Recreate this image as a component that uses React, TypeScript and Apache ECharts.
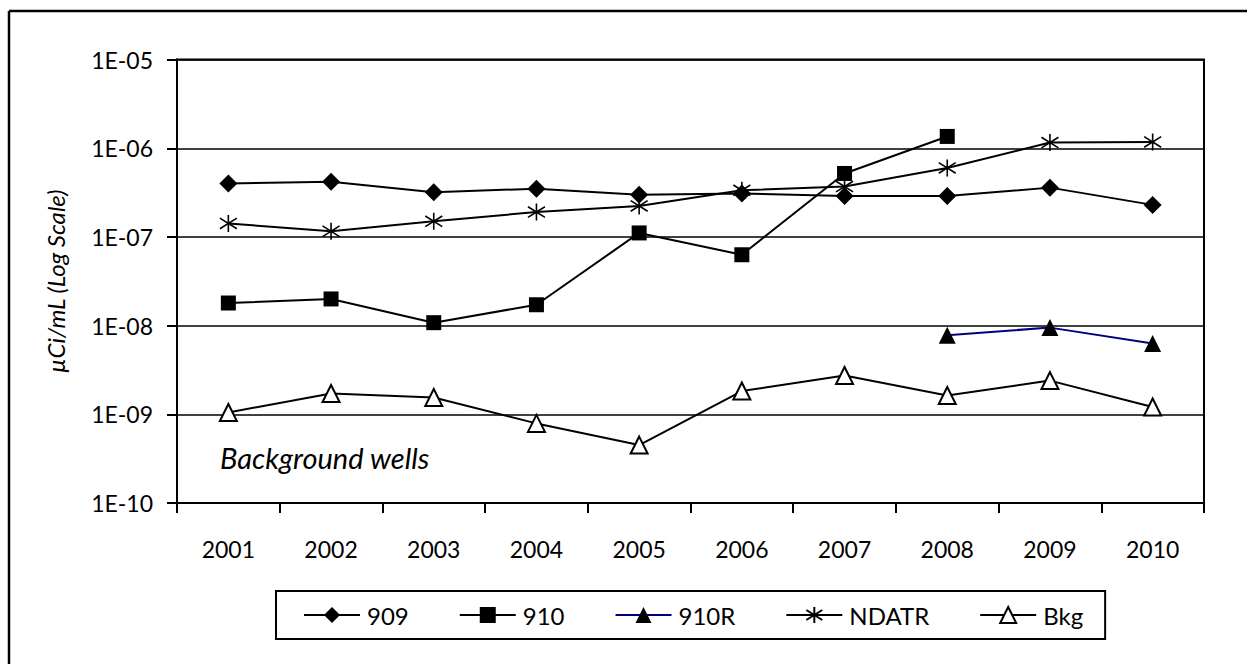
import React, { useEffect, useRef } from "react";
import * as echarts from "echarts";

const years = ["2001", "2002", "2003", "2004", "2005", "2006", "2007", "2008", "2009", "2010"];
const s909 = [4.0e-7, 4.2e-7, 3.2e-7, 3.5e-7, 3.0e-7, 3.1e-7, 2.9e-7, 2.9e-7, 3.6e-7, 2.3e-7];
const s910 = [1.8e-8, 2.0e-8, 1.08e-8, 1.72e-8, 1.11e-7, 6.3e-8, 5.2e-7, 1.36e-6, null, null];
const s910R = [null, null, null, null, null, null, null, 7.8e-9, 9.5e-9, 6.3e-9];
const sNDATR = [1.42e-7, 1.16e-7, 1.5e-7, 1.91e-7, 2.24e-7, 3.36e-7, 3.7e-7, 6.0e-7, 1.16e-6, 1.18e-6];
const sBkg = [1.05e-9, 1.72e-9, 1.55e-9, 7.9e-10, 4.5e-10, 1.83e-9, 2.74e-9, 1.63e-9, 2.4e-9, 1.21e-9];
const yAxisTitle = "µCi/mL (Log Scale)";
const note = "Background wells";

const FONT = "Lato, 'Open Sans', sans-serif";
const STAR = "path://M8,0L8,16M1,3L15,13M1,13L15,3";

export default function App() {
  const ref = useRef<HTMLDivElement>(null);
  useEffect(() => {
    if (!ref.current) return;
    const chart = echarts.init(ref.current, null, { renderer: "svg" });
    const lineBase = { color: "#000", width: 2 };
    chart.setOption({
      animation: false,
      backgroundColor: "#fff",
      textStyle: { fontFamily: FONT, color: "#000" },
      grid: {
        left: 177,
        top: 59.6,
        right: 43,
        bottom: 161,
        show: true,
        borderColor: "#000",
        borderWidth: 2,
      },
      legend: {
        left: 276,
        top: 591,
        orient: "horizontal",
        padding: [12, 22, 12, 27],
        itemWidth: 56,
        itemHeight: 20,
        itemGap: 50,
        borderColor: "#000",
        borderWidth: 2,
        textStyle: { fontFamily: FONT, fontSize: 24, color: "#000", padding: [0, 0, 0, 2] },
        data: ["909", "910", "910R", "NDATR", "Bkg"],
      },
      xAxis: {
        type: "category",
        data: years,
        boundaryGap: true,
        axisLine: { lineStyle: lineBase },
        axisTick: { show: true, alignWithLabel: false, length: 10, lineStyle: lineBase },
        axisLabel: { fontFamily: FONT, fontSize: 23, color: "#000", margin: 34 },
        splitLine: { show: false },
      },
      yAxis: {
        type: "log",
        logBase: 10,
        min: 1e-10,
        max: 1e-5,
        name: yAxisTitle,
        nameLocation: "middle",
        nameGap: 110,
        nameTextStyle: { fontFamily: FONT, fontSize: 24, fontStyle: "italic", color: "#000" },
        axisLine: { show: true, lineStyle: lineBase },
        axisTick: { show: true, length: 10, lineStyle: lineBase },
        axisLabel: {
          fontFamily: FONT,
          fontSize: 23,
          color: "#000",
          margin: 24,
          formatter: (v: number) => {
            const e = Math.round(Math.log10(v));
            return "1E" + (e < 0 ? "-" : "+") + String(Math.abs(e)).padStart(2, "0");
          },
        },
        splitLine: { show: true, lineStyle: { color: "#000", width: 1.5 } },
      },
      graphic: [
        {
          type: "line",
          shape: { x1: 9, y1: 11, x2: 1300, y2: 11 },
          style: { stroke: "#000", lineWidth: 2.5 },
          silent: true,
        },
        {
          type: "line",
          shape: { x1: 9, y1: 11, x2: 9, y2: 1000 },
          style: { stroke: "#000", lineWidth: 2.5 },
          silent: true,
        },
        {
          type: "text",
          x: 220,
          y: 457,
          style: {
            text: note,
            font: "italic 29px " + FONT,
            fill: "#000",
            verticalAlign: "middle",
          },
        },
      ],
      series: [
        {
          name: "909",
          type: "line",
          data: s909,
          symbol: "diamond",
          symbolSize: 18,
          lineStyle: { color: "#000", width: 2 },
          itemStyle: { color: "#000" },
        },
        {
          name: "910",
          type: "line",
          data: s910,
          symbol: "rect",
          symbolSize: 15,
          lineStyle: { color: "#000", width: 2 },
          itemStyle: { color: "#000" },
        },
        {
          name: "910R",
          type: "line",
          data: s910R,
          symbol: "triangle",
          symbolSize: 17,
          lineStyle: { color: "#000080", width: 2 },
          itemStyle: { color: "#000" },
        },
        {
          name: "NDATR",
          type: "line",
          data: sNDATR,
          symbol: STAR,
          symbolSize: 17,
          lineStyle: { color: "#000", width: 2 },
          itemStyle: { color: "rgba(0,0,0,0)", borderColor: "#000", borderWidth: 1.6 },
        },
        {
          name: "Bkg",
          type: "line",
          data: sBkg,
          symbol: "triangle",
          symbolSize: 17,
          lineStyle: { color: "#000", width: 2 },
          itemStyle: { color: "#fff", borderColor: "#000", borderWidth: 2 },
        },
      ],
    });
    return () => chart.dispose();
  }, []);
  return (
    <div
      ref={ref}
      style={{ position: "fixed", left: 0, top: 0, width: 1247, height: 664 }}
    />
  );
}
